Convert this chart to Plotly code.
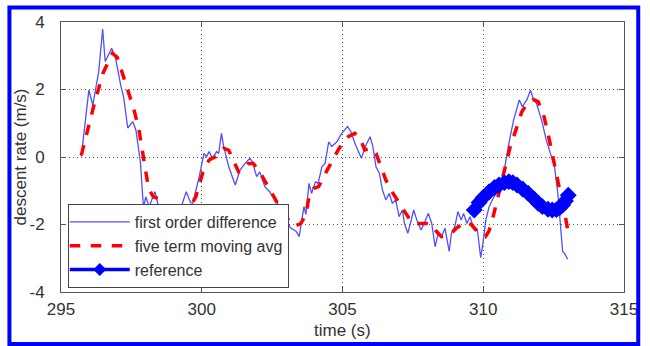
import plotly.graph_objects as go

# first order difference
fod_t = [295.72, 295.85, 295.99, 296.13, 296.34, 296.48, 296.57, 296.80, 296.94, 297.12,
         297.23, 297.37, 297.55, 297.66, 297.82, 297.93, 298.01, 298.13, 298.34, 298.50,
         298.70, 298.90, 299.10, 299.30, 299.45, 299.60, 299.68, 299.91, 300.08, 300.17,
         300.26, 300.38, 300.53, 300.60, 300.70, 300.78, 300.96, 301.19, 301.36, 301.54,
         301.71, 301.80, 301.95, 302.06, 302.24, 302.41, 302.59, 302.76, 302.95, 303.15,
         303.35, 303.46, 303.63, 303.70, 303.81, 303.90, 304.04, 304.13, 304.27, 304.38,
         304.51, 304.62, 304.80, 304.97, 305.18, 305.30, 305.44, 305.55, 305.67, 305.81,
         305.98, 306.08, 306.19, 306.31, 306.42, 306.54, 306.66, 306.77, 306.89, 307.01,
         307.13, 307.20, 307.32, 307.41, 307.53, 307.64, 307.79, 307.90, 308.05, 308.17,
         308.29, 308.40, 308.52, 308.64, 308.79, 308.87, 308.99, 309.10, 309.22, 309.30,
         309.42, 309.53, 309.68, 309.79, 309.91, 309.99, 310.09, 310.21, 310.38, 310.56,
         310.73, 310.91, 311.08, 311.28, 311.39, 311.55, 311.68, 311.77, 311.89, 312.07,
         312.24, 312.42, 312.53, 312.65, 312.74, 312.82, 312.90, 313.00]
fod_v = [0.01, 1.00, 1.98, 1.54, 2.53, 3.79, 2.83, 3.22, 2.92, 2.13,
         1.75, 0.86, 1.05, 0.80, -0.14, -1.51, -1.18, -1.47, -1.03, -1.60,
         -1.90, -2.10, -1.80, -1.40, -1.03, -1.35, -1.37, -0.58, 0.11, 0.01,
         0.16, -0.04, 0.16, 0.10, 0.70, 0.31, -0.29, -0.83, -0.39, -0.19,
         -0.04, -0.14, -0.58, -0.44, -0.88, -1.03, -1.27, -1.47, -1.80, -2.10,
         -2.20, -2.36, -1.47, -1.70, -0.78, -1.08, -0.73, -0.78, -0.29, -0.19,
         0.45, 0.31, 0.45, 0.70, 0.90, 0.75, 0.41, 0.21, -0.04, 0.31,
         0.60, 0.31, -0.29, -0.48, -0.98, -1.27, -1.08, -1.37, -1.27, -1.77,
         -1.57, -1.97, -2.26, -1.97, -1.57, -1.87, -2.16, -1.97, -1.67, -1.97,
         -2.66, -2.26, -2.36, -2.11, -2.80, -2.26, -2.06, -1.62, -1.87, -1.67,
         -1.97, -1.77, -2.16, -2.16, -2.98, -2.55, -1.87, -1.47, -1.18, -0.98,
         -0.48, 0.41, 1.10, 1.69, 1.49, 1.70, 1.98, 1.74, 1.59, 1.10,
         0.50, 0.01, -0.28, -1.08, -2.06, -2.80, -2.87, -3.03]

# five term moving average
mavg_t = [295.72, 295.95, 296.19, 296.50, 296.83, 297.00, 297.29, 297.58, 297.76, 297.93,
          298.11, 298.28, 298.45, 298.69, 298.90, 299.10, 299.38, 299.62, 299.79, 300.03,
          300.26, 300.50, 300.78, 300.96, 301.13, 301.31, 301.48, 301.66, 301.83, 302.06,
          302.29, 302.53, 302.76, 302.90, 303.10, 303.30, 303.52, 303.70, 303.81, 303.98,
          304.15, 304.33, 304.51, 304.69, 304.85, 305.00, 305.20, 305.44, 305.60, 305.79,
          306.02, 306.19, 306.37, 306.54, 306.72, 306.95, 307.18, 307.35, 307.53, 307.76,
          308.00, 308.17, 308.34, 308.52, 308.69, 308.87, 309.04, 309.22, 309.39, 309.57,
          309.74, 309.91, 310.08, 310.20, 310.32, 310.50, 310.73, 310.96, 311.20, 311.37,
          311.60, 311.78, 311.95, 312.13, 312.30, 312.48, 312.65, 312.82, 312.94, 313.02]
mavg_v = [0.05, 0.80, 1.60, 2.50, 3.07, 2.95, 2.23, 1.44, 0.85, -0.04,
          -0.93, -1.18, -1.23, -1.52, -1.75, -1.80, -1.47, -1.42, -1.18, -0.48,
          -0.09, 0.01, 0.26, 0.20, -0.09, -0.44, -0.39, -0.19, -0.19, -0.44,
          -0.78, -1.13, -1.47, -1.60, -1.90, -2.05, -1.97, -1.70, -1.18, -0.93,
          -0.88, -0.58, -0.29, -0.04, 0.21, 0.43, 0.60, 0.70, 0.60, 0.21,
          0.26, 0.11, -0.29, -0.68, -0.98, -1.27, -1.57, -1.80, -1.97, -1.97,
          -1.97, -2.00, -2.21, -2.36, -2.31, -2.26, -2.11, -2.00, -1.92, -2.00,
          -2.16, -2.31, -2.36, -2.20, -1.87, -1.27, -0.48, 0.31, 0.90, 1.34,
          1.64, 1.70, 1.64, 1.29, 0.70, 0.01, -0.68, -1.37, -1.87, -2.26]

# reference
ref_t = [309.68, 309.85, 310.00, 310.21, 310.40, 310.56, 310.75, 310.91, 311.05, 311.20,
         311.40, 311.60, 311.80, 311.95, 312.10, 312.30, 312.45, 312.60, 312.72, 312.82,
         312.92, 313.02]
ref_v = [-1.57, -1.35, -1.20, -1.03, -0.90, -0.83, -0.76, -0.73, -0.76, -0.83,
         -0.95, -1.08, -1.24, -1.37, -1.47, -1.55, -1.57, -1.56, -1.50, -1.42,
         -1.30, -1.13]

x_ticks = [295, 300, 305, 310, 315]
y_ticks = [-4, -2, 0, 2, 4]

FONT = "Liberation Sans, Arial, sans-serif"
TXT = "#333333"
AX = "#555555"

fig = go.Figure()
fig.add_trace(go.Scatter(x=fod_t, y=fod_v, mode="lines", name="first order difference",
                         line=dict(color="#5050ff", width=1.3)))
fig.add_trace(go.Scatter(x=mavg_t, y=mavg_v, mode="lines", name="five term moving avg",
                         line=dict(color="#ff0000", width=3.5, dash="dash")))
fig.add_trace(go.Scatter(x=ref_t, y=ref_v, mode="lines+markers", name="reference",
                         showlegend=False,
                         line=dict(color="#0000ff", width=9),
                         marker=dict(symbol="diamond", size=13, color="#0000ff")))
# legend entry for the reference series (thinner line, as in the original legend)
fig.add_trace(go.Scatter(x=[None], y=[None], mode="lines+markers", name="reference",
                         line=dict(color="#0000ff", width=3.5),
                         marker=dict(symbol="diamond", size=10, color="#0000ff")))

axis_common = dict(showline=True, linecolor=AX, linewidth=1, mirror="ticks",
                   ticks="inside", ticklen=5, tickcolor=AX, showgrid=True,
                   gridcolor="#555555", griddash="1px,3px", gridwidth=1, zeroline=False,
                   tickfont=dict(family=FONT, size=17, color=TXT))

fig.update_xaxes(range=[295, 315], tickvals=x_ticks, ticktext=[str(v) for v in x_ticks],
                 ticklabelstandoff=2, **axis_common)
fig.update_yaxes(range=[-4, 4], tickvals=y_ticks, ticktext=[str(v) for v in y_ticks],
                 ticklabelstandoff=12, **axis_common)

fig.update_layout(
    width=650, height=346,
    margin=dict(l=61, r=16, t=22, b=54),
    paper_bgcolor="white", plot_bgcolor="white",
    font=dict(family=FONT, size=17, color=TXT),
    showlegend=True,
    legend=dict(x=0.012, y=0.015, xanchor="left", yanchor="bottom",
                bgcolor="white", bordercolor="#444444", borderwidth=1,
                font=dict(family=FONT, size=16, color=TXT),
                itemwidth=60, tracegroupgap=0, indentation=-4),
    annotations=[
        dict(text="time (s)", xref="paper", yref="paper", x=0.5, y=-0.141,
             xanchor="center", yanchor="middle", showarrow=False,
             font=dict(family=FONT, size=17, color=TXT)),
        dict(text="descent rate (m/s)", xref="paper", yref="paper", x=-0.072, y=0.5,
             xanchor="center", yanchor="middle", showarrow=False, textangle=-90,
             font=dict(family=FONT, size=17, color=TXT)),
    ],
    shapes=[dict(type="rect", xref="paper", yref="paper",
                 x0=-0.0916, x1=1.0253, y0=-0.1926, y1=1.0537,
                 line=dict(color="#0000ff", width=4), fillcolor="rgba(0,0,0,0)")],
)

fig.write_html("out.html")
